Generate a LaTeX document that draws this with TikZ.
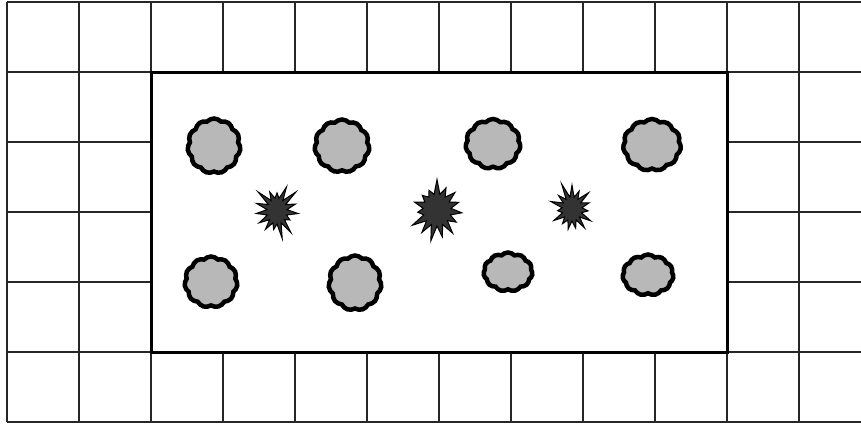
\documentclass[tikz,border=0pt]{standalone}
\usetikzlibrary{shapes.symbols}

\begin{document}
\begin{tikzpicture}[x=1pt, y=-1pt,
      gridline/.style={line width=1.6pt, black!85},
      frame/.style={draw, line width=3pt, fill=white, inner sep=0pt},
      blob/.style={cloud, cloud puffs=11, cloud puff arc=95, draw, line width=4.5pt, fill=black!28, inner sep=0pt},
      burst/.style={starburst, starburst points=15, starburst point height=16pt, draw, line width=1pt, fill=black!80, inner sep=0pt}
    ]
      \useasboundingbox (0,0) rectangle (861,423);
      % outer grid
      \foreach \x in {7,79,...,799}
        \draw[gridline] (\x,2) -- (\x,422);
      \foreach \y in {2,72,...,422}
        \draw[gridline] (7,\y) -- (861,\y);
      % inner field
      \node[frame, minimum width=576pt, minimum height=280pt] (field) at (439,212) {};
      % blobs
      \node[blob, minimum width=53pt, minimum height=55pt] (b1) at (214,146) {};
      \node[blob, minimum width=55pt, minimum height=53pt] (b2) at (342,146) {};
      \node[blob, minimum width=55pt, minimum height=50pt] (b3) at (493,144) {};
      \node[blob, minimum width=58pt, minimum height=52pt] (b4) at (652,145) {};
      \node[blob, minimum width=53pt, minimum height=51pt] (b5) at (211,282) {};
      \node[blob, minimum width=53pt, minimum height=55pt] (b6) at (355,283) {};
      \node[blob, minimum width=49pt, minimum height=39pt] (b7) at (508,272) {};
      \node[blob, minimum width=51pt, minimum height=41pt] (b8) at (648,275) {};
      % bursts
      \node[burst, random starburst=3, minimum width=52pt, minimum height=58pt] (s1) at (277,211) {};
      \node[burst, random starburst=7, minimum width=60pt, minimum height=64pt] (s2) at (437,210) {};
      \node[burst, random starburst=11, minimum width=52pt, minimum height=56pt] (s3) at (572,209) {};
    \end{tikzpicture}
\end{document}
